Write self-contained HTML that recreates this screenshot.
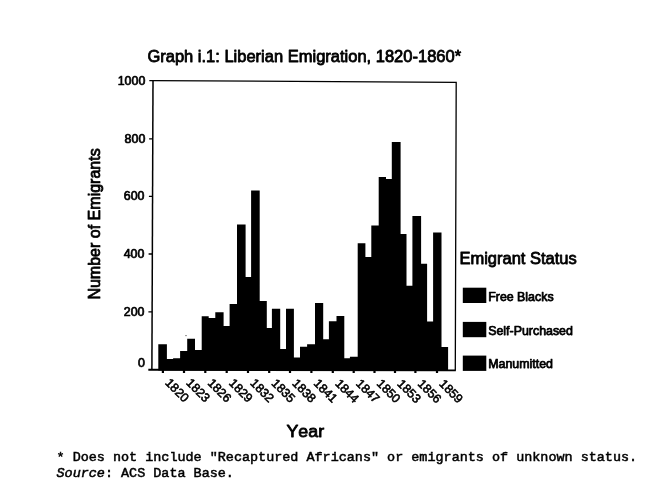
<!DOCTYPE html>
<html lang="en"><head><meta charset="utf-8"><title>Graph i.1: Liberian Emigration, 1820-1860</title>
<style>html,body{margin:0;padding:0;background:#fff;width:655px;height:484px;overflow:hidden}</style></head>
<body>
<svg width="655" height="484" viewBox="0 0 655 484" style="position:absolute;left:0;top:0">
<rect x="0" y="0" width="655" height="484" fill="#fff"/>
<path d="M158.3 370.6V344.3H166.9V359H173.1V358.2H180.1V350.9H187.2V338.8H195V349.9H201.7V316.2H208.7V317.9H215.3V312.3H223.6V326.1H229.6V304.1H237V224.6H245.6V277H251.1V190.4H259.7V301H266.8V328H271.9V308.8H280.2V349.1H286V308.8H293.9V357.4H300V346.8H307.1V344.3H315V303H323.2V339.2H328.9V321.2H336.5V315.9H344.3V358.2H349.9V356.7H357.7V243.3H365.4V257H371.3V225.6H378.7V177H386V179H391.8V142H400.6V234.1H406.5V285.8H412.4V216H421.1V263.7H427.1V321.6H433.1V232.4H441.5V347.1H448.1V370.6Z" fill="#000"/>
<path d="M153.0 80.6L456.2 82.4L455.3 370.4" fill="none" stroke="#000" stroke-width="1.3"/>
<path d="M153.0 80.6L151.9 369.8" fill="none" stroke="#000" stroke-width="1.5"/>
<path d="M148.3 369.7L455.8 370.4" fill="none" stroke="#000" stroke-width="1.9"/>
<path d="M149.3 80.6H153.0M149.1 138.8H152.8M148.9 196.3H152.6M148.6 254.0H152.3M148.4 311.9H152.1" stroke="#000" stroke-width="1.3" fill="none"/>
<path d="M162.9 369.8V373.1M184.0 369.8V373.1M205.3 369.8V373.1M226.7 369.8V373.1M248.0 369.8V373.1M269.2 369.8V373.1M290.0 369.8V373.1M311.4 369.8V373.1M332.8 369.8V373.1M353.7 369.8V373.1M374.5 369.8V373.1M395.0 369.8V373.1M415.4 369.8V373.1M437.0 369.8V373.1" stroke="#000" stroke-width="2.2" fill="none"/>
<circle cx="186" cy="335.6" r="0.7" fill="#444"/>
<g font-family="'Liberation Sans', Arial, sans-serif" fill="#000" stroke="#000" stroke-width="0.8" stroke-linejoin="round" style="font-kerning:none">
<g font-size="12.4" text-anchor="end" stroke-width="0.7">
<text x="145.3" y="84.7">1000</text>
<text x="145.3" y="142.8">800</text>
<text x="144.5" y="200.3">600</text>
<text x="144.4" y="258.0">400</text>
<text x="144.5" y="315.9">200</text>
<text x="145.0" y="366.9">0</text>
</g>
<g font-size="12.3" stroke-width="0.55">
<text transform="translate(164.5 383.5) rotate(45)">1820</text>
<text transform="translate(185.6 383.6) rotate(45)">1823</text>
<text transform="translate(206.9 383.7) rotate(45)">1826</text>
<text transform="translate(228.3 383.8) rotate(45)">1829</text>
<text transform="translate(249.6 383.8) rotate(45)">1832</text>
<text transform="translate(270.8 383.9) rotate(45)">1835</text>
<text transform="translate(291.6 384.0) rotate(45)">1838</text>
<text transform="translate(313.0 384.1) rotate(45)">1841</text>
<text transform="translate(334.4 384.2) rotate(45)">1844</text>
<text transform="translate(355.3 384.3) rotate(45)">1847</text>
<text transform="translate(376.1 384.3) rotate(45)">1850</text>
<text transform="translate(396.6 384.4) rotate(45)">1853</text>
<text transform="translate(417.0 384.5) rotate(45)">1856</text>
<text transform="translate(438.6 384.6) rotate(45)">1859</text>
</g>
<text x="147.4" y="62.4" font-size="16.5">Graph i.1: Liberian Emigration, 1820-1860*</text>
<text x="286.5" y="437.0" font-size="16.5" textLength="37.6" lengthAdjust="spacingAndGlyphs">Year</text>
<text transform="translate(100.4 299.6) rotate(-90)" font-size="16.5" textLength="151.3" lengthAdjust="spacingAndGlyphs">Number of Emigrants</text>
<text x="459.4" y="263.8" font-size="16.5">Emigrant Status</text>
<g font-size="12.4" stroke-width="0.75">
<rect x="462.8" y="287.7" width="23.5" height="15.3" fill="#000" stroke="none"/>
<text x="488.2" y="301.0">Free Blacks</text>
<rect x="462.8" y="321.9" width="23.5" height="15.3" fill="#000" stroke="none"/>
<text x="488.2" y="334.8">Self-Purchased</text>
<rect x="462.8" y="355.6" width="23.5" height="15.3" fill="#000" stroke="none"/>
<text x="488.2" y="367.9">Manumitted</text>
</g>
</g>
<g font-family="'Liberation Mono', 'Courier New', monospace" font-size="13.45" fill="#000" stroke="#000" stroke-width="0.5">
<text x="56.5" y="461.4">* Does not include "Recaptured Africans" or emigrants of unknown status.</text>
<text x="56.5" y="476.6"><tspan font-style="italic">Source</tspan>: ACS Data Base.</text>
</g>
</svg>
</body></html>
